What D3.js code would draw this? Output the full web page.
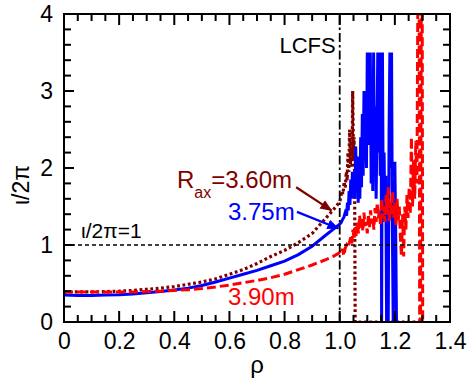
<!DOCTYPE html>
<html>
<head>
<meta charset="utf-8">
<script src="https://cdn.jsdelivr.net/npm/d3@7"></script>
<style>
  body { margin: 0; background: #fff; }
  svg text { font-family: Arial, "Liberation Sans", sans-serif; }
</style>
</head>
<body>
<div id="viewportContainer"></div>
<script>
/* --- ビューポート --- */
const viewport = { width: 471, height: 385 };
const margin = { top: 14, right: 21, bottom: 63, left: 64 };

/* --- データ: 中心部 (rho <= 1.0 手前) --- */
const rhoCore = [0, 0.05, 0.1, 0.15, 0.2, 0.25, 0.3, 0.35, 0.4, 0.45, 0.5,
  0.55, 0.6, 0.65, 0.7, 0.75, 0.8, 0.85, 0.9, 0.95, 0.975];
const iota360Core = [0.39, 0.39, 0.39, 0.395, 0.4, 0.41, 0.425, 0.44, 0.46, 0.49, 0.52,
  0.56, 0.62, 0.68, 0.76, 0.85, 0.93, 1.03, 1.15, 1.35, 1.45];
const iota375Core = [0.35, 0.345, 0.345, 0.35, 0.355, 0.365, 0.38, 0.395, 0.415, 0.44, 0.475,
  0.52, 0.57, 0.62, 0.67, 0.73, 0.79, 0.875, 0.985, 1.13, 1.2];
const iota390Core = [0.39, 0.39, 0.39, 0.39, 0.39, 0.39, 0.395, 0.4, 0.41, 0.42, 0.435,
  0.455, 0.48, 0.51, 0.54, 0.575, 0.62, 0.68, 0.74, 0.81, 0.85];

/* --- データ: LCFS の外側 [rho, iota/2pi] --- */
const edge360 = [[1.000, 1.56], [1.004, 1.62], [1.008, 1.70], [1.012, 1.66], [1.016, 1.82],
  [1.020, 1.74], [1.024, 1.95], [1.027, 1.84], [1.030, 2.20], [1.033, 1.95], [1.036, 2.50],
  [1.039, 2.05], [1.042, 2.35], [1.045, 2.00], [1.047, 3.00], [1.050, 2.10], [1.052, 2.40],
  [1.054, 1.90], [1.056, 0.00], [1.290, 0.00]];

const edge375 = [[1.000, 1.27], [1.005, 1.29], [1.010, 1.33], [1.015, 1.36], [1.020, 1.42],
  [1.025, 1.38], [1.028, 1.55], [1.031, 1.45], [1.034, 1.70], [1.037, 1.52], [1.040, 1.85],
  [1.043, 1.60], [1.046, 1.95], [1.049, 1.65], [1.052, 1.90], [1.055, 1.60], [1.058, 2.28],
  [1.061, 1.70], [1.064, 2.15], [1.067, 1.55], [1.070, 1.95], [1.073, 1.60], [1.076, 2.40],
  [1.079, 1.75], [1.082, 2.70], [1.085, 1.90], [1.088, 3.00], [1.091, 2.10], [1.094, 2.95],
  [1.097, 2.00], [1.100, 3.50], [1.103, 2.30], [1.106, 3.50], [1.109, 2.60], [1.111, 3.50],
  [1.114, 1.80], [1.117, 2.60], [1.120, 1.70], [1.123, 3.50], [1.126, 2.00], [1.129, 2.80],
  [1.132, 1.60], [1.135, 2.40], [1.138, 3.50], [1.141, 2.20], [1.144, 3.50], [1.147, 1.90],
  [1.150, 3.50], [1.152, 0.00], [1.155, 3.50], [1.158, 1.50], [1.161, 2.20], [1.164, 1.30],
  [1.167, 1.90], [1.170, 0.00], [1.173, 1.40], [1.176, 0.00], [1.179, 2.50], [1.182, 3.50],
  [1.185, 2.00], [1.188, 3.50], [1.191, 1.20], [1.194, 0.00], [1.197, 1.10], [1.200, 2.08],
  [1.203, 1.20], [1.206, 0.00], [1.210, 0.00]];

const edge390 = [[1.000, 0.90], [1.005, 0.88], [1.010, 0.95], [1.015, 0.86], [1.020, 0.96],
  [1.025, 1.00], [1.030, 0.97], [1.035, 1.03], [1.040, 1.10], [1.044, 1.02], [1.048, 1.20],
  [1.052, 1.08], [1.056, 1.25], [1.060, 1.12], [1.064, 1.30], [1.068, 1.15], [1.072, 1.38],
  [1.076, 1.22], [1.080, 1.35], [1.084, 1.18], [1.088, 1.42], [1.092, 1.25], [1.096, 1.30],
  [1.100, 1.15], [1.104, 1.40], [1.108, 1.22], [1.112, 1.45], [1.116, 1.28], [1.120, 1.35],
  [1.124, 1.20], [1.128, 1.48], [1.132, 1.30], [1.136, 1.55], [1.140, 1.35], [1.144, 1.45],
  [1.148, 1.25], [1.152, 1.60], [1.156, 1.35], [1.160, 1.50], [1.164, 1.30], [1.168, 1.65],
  [1.172, 1.40], [1.176, 1.75], [1.180, 1.30], [1.184, 1.55], [1.188, 1.40], [1.192, 1.70],
  [1.196, 1.35], [1.200, 1.55], [1.204, 1.25], [1.208, 1.60], [1.212, 1.30], [1.216, 1.50],
  [1.220, 1.10], [1.224, 0.85], [1.228, 1.40], [1.232, 0.85], [1.236, 1.50], [1.240, 1.20],
  [1.244, 1.65], [1.248, 1.35], [1.252, 1.75], [1.256, 1.40], [1.260, 2.40], [1.264, 1.50],
  [1.268, 2.10], [1.272, 1.60], [1.276, 2.35], [1.280, 1.80], [1.284, 4.60], [1.288, 4.60],
  [1.290, 0.00], [1.293, 0.00], [1.296, 4.60], [1.299, 4.60], [1.301, 0.00]];

/* --- 目盛り --- */
const xMajorTicks = [0, 0.2, 0.4, 0.6, 0.8, 1.0, 1.2, 1.4];
const xMinorTicks = d3.range(0, 29).map((i) => i * 0.05);
const yMajorTicks = [0, 1, 2, 3, 4];
const yMinorTicks = d3.range(0, 21).map((i) => i * 0.2);

/* --- 注釈 --- */
const lcfsRho = 1.0;
const resonance = 1.0;
const arrow360 = [[0.842, 1.75], [0.97, 1.45]];
const arrow375 = [[0.845, 1.43], [0.995, 1.215]];

const colors = { r360: "#800000", r375: "#0000ff", r390: "#ff0000" };

let drawChart = function () {
  console.log("drawChart");

  const svg = d3
    .select("#viewportContainer")
    .append("svg")
    .attr("width", viewport.width)
    .attr("height", viewport.height);

  const x = d3
    .scaleLinear()
    .domain([0, 1.4])
    .range([margin.left, viewport.width - margin.right]);
  const y = d3
    .scaleLinear()
    .domain([0, 4])
    .range([viewport.height - margin.bottom, margin.top]);

  const [x0, x1] = x.range();
  const [y0, y1] = y.range();

  const defs = svg.append("defs");
  defs
    .append("clipPath")
    .attr("id", "plotClip")
    .append("rect")
    .attr("x", x0)
    .attr("y", y1)
    .attr("width", x1 - x0)
    .attr("height", y0 - y1);

  // 矢印の頭
  Object.entries({ head360: colors.r360, head375: colors.r375 }).forEach(
    ([id, c]) => {
      defs
        .append("marker")
        .attr("id", id)
        .attr("markerUnits", "userSpaceOnUse")
        .attr("viewBox", "0 0 12 10")
        .attr("refX", 11)
        .attr("refY", 5)
        .attr("markerWidth", 12)
        .attr("markerHeight", 10)
        .attr("orient", "auto")
        .append("path")
        .attr("d", "M0,0 L12,5 L0,10 Z")
        .attr("fill", c);
    }
  );

  /*--- 曲線 ---*/
  const line = d3
    .line()
    .x((d) => x(d[0]))
    .y((d) => y(d[1]));

  const plot = svg.append("g").attr("clip-path", "url(#plotClip)");

  const series = [
    { core: iota360Core, edge: edge360, color: colors.r360, dash: "2.8,2.6", w: 3.2 },
    { core: iota375Core, edge: edge375, color: colors.r375, dash: null, w: 3 },
    { core: iota390Core, edge: edge390, color: colors.r390, dash: "9,4", w: 3 },
  ];

  series.forEach((s) => {
    const pts = rhoCore.map((r, i) => [r, s.core[i]]).concat(s.edge);
    plot
      .append("path")
      .datum(pts)
      .attr("fill", "none")
      .attr("stroke", s.color)
      .attr("stroke-width", s.w)
      .attr("stroke-linejoin", "miter")
      .attr("stroke-dasharray", s.dash)
      .attr("d", line);
  });

  // iota/2pi = 1 と LCFS
  plot
    .append("line")
    .attr("x1", x0)
    .attr("x2", x1)
    .attr("y1", y(resonance))
    .attr("y2", y(resonance))
    .attr("stroke", "#000")
    .attr("stroke-width", 1.5)
    .attr("stroke-dasharray", "4,3");

  plot
    .append("line")
    .attr("x1", x(lcfsRho))
    .attr("x2", x(lcfsRho))
    .attr("y1", y0)
    .attr("y2", y1)
    .attr("stroke", "#000")
    .attr("stroke-width", 1.8)
    .attr("stroke-dasharray", "9,3,2.5,3");

  /*--- 目盛り (内向き、四辺) ---*/
  const tw = 2;
  const isMajor = (list, v) => list.some((m) => Math.abs(m - v) < 1e-9);
  const xTickData = xMinorTicks.map((v) => ({ v: v, len: isMajor(xMajorTicks, v) ? 11 : 7 }));
  const yTickData = yMinorTicks.map((v) => ({ v: v, len: isMajor(yMajorTicks, v) ? 10 : 7 }));

  const tickG = svg.append("g").attr("id", "tickMarks");

  tickG
    .selectAll("rect.xb")
    .data(xTickData)
    .join("rect")
    .attr("class", "xb")
    .attr("x", (d) => x(d.v) - tw / 2)
    .attr("y", (d) => y0 - d.len)
    .attr("width", tw)
    .attr("height", (d) => d.len)
    .attr("fill", "#000");

  tickG
    .selectAll("rect.xt")
    .data(xTickData)
    .join("rect")
    .attr("class", "xt")
    .attr("x", (d) => x(d.v) - tw / 2)
    .attr("y", y1)
    .attr("width", tw)
    .attr("height", (d) => d.len)
    .attr("fill", "#000");

  tickG
    .selectAll("rect.yl")
    .data(yTickData)
    .join("rect")
    .attr("class", "yl")
    .attr("x", x0)
    .attr("y", (d) => y(d.v) - tw / 2)
    .attr("width", (d) => d.len)
    .attr("height", tw)
    .attr("fill", "#000");

  tickG
    .selectAll("rect.yr")
    .data(yTickData)
    .join("rect")
    .attr("class", "yr")
    .attr("x", (d) => x1 - d.len)
    .attr("y", (d) => y(d.v) - tw / 2)
    .attr("width", (d) => d.len)
    .attr("height", tw)
    .attr("fill", "#000");

  /*--- 目盛りラベル ---*/
  const fmtX = (d) => (d === 0 ? "0" : d3.format(".1f")(d));

  const labelStyle = function (g) {
    g.select(".domain").remove();
    g.selectAll("line").remove();
    g.selectAll("text")
      .attr("font-size", "23px")
      .attr("fill", "#000")
      .style("font-family", 'Arial, "Liberation Sans", sans-serif');
  };

  svg
    .append("g")
    .attr("transform", `translate(0,${y0})`)
    .call(d3.axisBottom(x).tickValues(xMajorTicks).tickSize(0).tickPadding(11).tickFormat(fmtX))
    .call(labelStyle);

  svg
    .append("g")
    .attr("transform", `translate(${x0},0)`)
    .call(d3.axisLeft(y).tickValues(yMajorTicks).tickSize(0).tickPadding(11).tickFormat(d3.format("d")))
    .call(labelStyle);

  // 枠
  svg
    .append("rect")
    .attr("x", x0)
    .attr("y", y1)
    .attr("width", x1 - x0)
    .attr("height", y0 - y1)
    .attr("fill", "none")
    .attr("stroke", "#000")
    .attr("stroke-width", 2);

  /*--- 軸ラベル ---*/
  svg
    .append("text")
    .attr("transform", `translate(29,${(y0 + y1) / 2 + 17}) rotate(-90)`)
    .attr("text-anchor", "middle")
    .attr("font-size", "23px")
    .text("ι/2π");

  svg
    .append("text")
    .attr("x", (x0 + x1) / 2)
    .attr("y", 373)
    .attr("text-anchor", "middle")
    .attr("font-size", "24px")
    .text("ρ");

  /*--- 注釈 ---*/
  svg
    .append("text")
    .attr("x", x(lcfsRho) - 4)
    .attr("y", 53)
    .attr("text-anchor", "end")
    .attr("font-size", "22px")
    .text("LCFS");

  svg
    .append("text")
    .attr("x", 81)
    .attr("y", 238)
    .attr("font-size", "21px")
    .text("ι/2π=1");

  const lab360 = svg
    .append("text")
    .attr("x", 177)
    .attr("y", 188)
    .attr("font-size", "24px")
    .attr("fill", colors.r360);
  lab360.append("tspan").text("R");
  lab360.append("tspan").attr("font-size", "16px").attr("dy", 10).text("ax");
  lab360.append("tspan").attr("dy", -10).text("=3.60m");

  svg
    .append("text")
    .attr("x", 228)
    .attr("y", 220)
    .attr("font-size", "24px")
    .attr("fill", colors.r375)
    .text("3.75m");

  svg
    .append("text")
    .attr("x", 228)
    .attr("y", 305)
    .attr("font-size", "24px")
    .attr("fill", colors.r390)
    .text("3.90m");

  [
    [arrow360, colors.r360, "head360"],
    [arrow375, colors.r375, "head375"],
  ].forEach(([a, c, id]) => {
    svg
      .append("line")
      .attr("x1", x(a[0][0]))
      .attr("y1", y(a[0][1]))
      .attr("x2", x(a[1][0]))
      .attr("y2", y(a[1][1]))
      .attr("stroke", c)
      .attr("stroke-width", 2.2)
      .attr("marker-end", `url(#${id})`);
  });
};

drawChart();
</script>
</body>
</html>
